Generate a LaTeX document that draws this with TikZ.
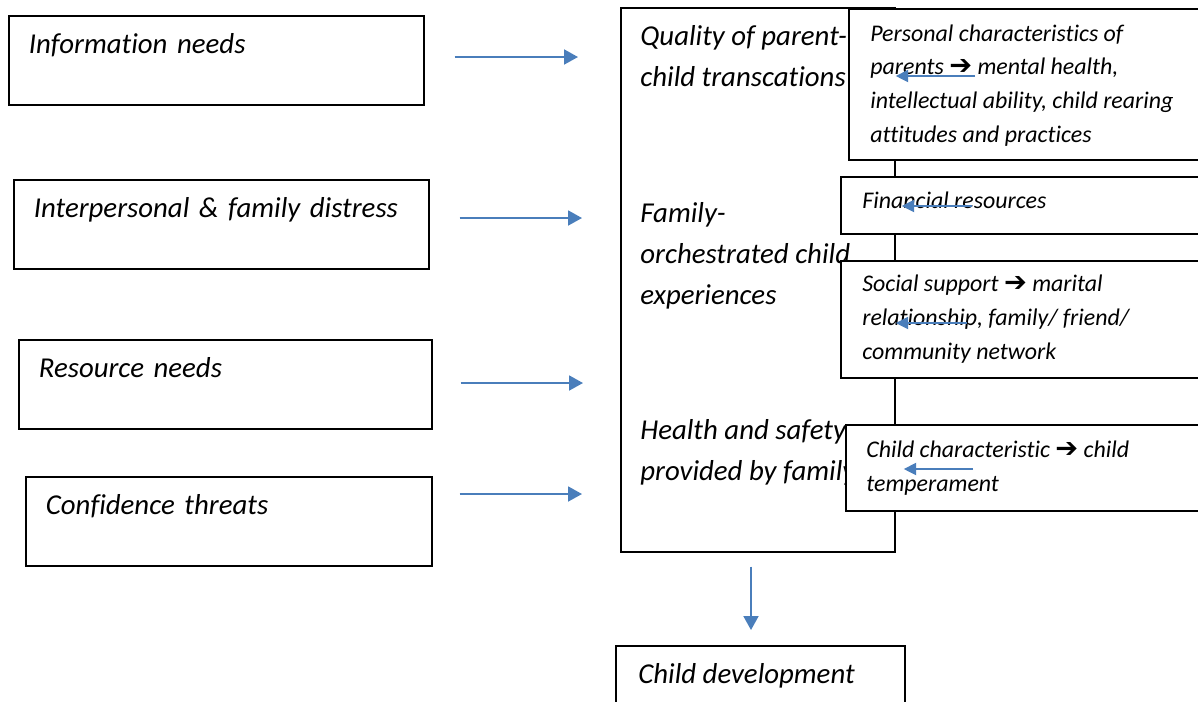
\documentclass[tikz,border=0pt]{standalone}
\usepackage{fontspec}
\setmainfont{Carlito}[Ligatures=NoCommon]
\newfontfamily\arrowfont{DejaVu Sans}
\usetikzlibrary{arrows.meta}
\definecolor{linkblue}{RGB}{74,126,187}
\newcommand{\bigtext}{\itshape\fontsize{16.4}{23.2}\selectfont}
\newcommand{\smalltext}{\itshape\fontsize{13.6}{19.1}\selectfont}
\newcommand{\leadsinto}{{\arrowfont\upshape\fontsize{15.5}{15}\selectfont ➔}}

\tikzset{
  factor/.style={draw, line width=1pt, anchor=north west, align=left, inner xsep=0.4cm, inner ysep=0pt,
    text width=#1, text height=0.76cm, text depth=1.02cm, font=\bigtext},
  holder/.style={draw, line width=1pt, anchor=north west},
  source/.style={draw, line width=1pt, fill=white, anchor=north west, minimum width=7.3cm},
  bigtxt/.style={anchor=base west, align=left, inner sep=0pt, font=\bigtext},
  smalltxt/.style={anchor=base west, align=left, inner sep=0pt, font=\smalltext},
  flow/.style={draw=linkblue, line width=1.1pt, -{Triangle[length=0.28cm, width=0.3cm]}},
  backflow/.style={draw=linkblue, line width=1.1pt, -{Triangle[length=0.25cm, width=0.24cm]}}
}

\begin{document}
\begin{tikzpicture}[x=0.02cm, y=-0.02cm]
	%%%%% START %%%%%
	\clip (0,0) rectangle (1198,701);
	
	% needs and threats on the left
	\node[factor=7.5cm] (info) at (8,15) {Information needs};
	\node[factor=7.5cm] (distress) at (13,179) {Interpersonal \& family distress};
	\node[factor=7.46cm] (resneeds) at (18,339) {Resource needs};
	\node[factor=7.32cm] (threats) at (25,476) {Confidence threats};
	
	% family patterns of interaction
	\node[holder, minimum width=5.48cm, minimum height=10.88cm] (main) at (620,7) {};
	\node[bigtxt] (quality) at (640,86) {Quality of parent-\\child transcations};
	\node[bigtxt] (orchestrated) at (640,304) {Family-\\orchestrated child\\experiences};
	\node[bigtxt] (health) at (640,480) {Health and safety\\provided by family};
	
	\draw[flow, shorten <=0.6cm, shorten >=0.84cm] (info.east |- 0,57) -- (main.west |- 0,57);
	\draw[flow, shorten <=0.6cm, shorten >=0.76cm] (distress.east |- 0,218) -- (main.west |- 0,218);
	\draw[flow, shorten <=0.56cm, shorten >=0.74cm] (resneeds.east |- 0,383) -- (main.west |- 0,383);
	\draw[flow, shorten <=0.54cm, shorten >=0.76cm] (threats.east |- 0,494) -- (main.west |- 0,494);
	
	% family characteristics on the right
	\node[source, minimum height=3.02cm] (persbox) at (848,8) {};
	\node[smalltxt] (pers) at (870,142) {Personal characteristics of\\parents \leadsinto\ mental health,\\intellectual ability, child rearing\\attitudes and practices};
	\node[source, minimum height=1.14cm] (finbox) at (840,176) {};
	\node[smalltxt] (fin) at (862,208) {Financial resources};
	\node[source, minimum height=2.34cm] (socbox) at (840,260) {};
	\node[smalltxt] (soc) at (862,359) {Social support \leadsinto\ marital\\relationship, family/ friend/\\community network};
	\node[source, minimum height=1.72cm] (childbox) at (845,424) {};
	\node[smalltxt] (temper) at (866,491) {Child characteristic \leadsinto\ child\\temperament};
	
	\coordinate (p1) at (975,76);
	\coordinate (p2) at (972,206);
	\coordinate (p3) at (967,323);
	\coordinate (p4) at (973,469);
	\draw[backflow] (p1) -- (p1 -| main.east);
	\draw[backflow, shorten >=0.12cm] (p2) -- (p2 -| main.east);
	\draw[backflow] (p3) -- (p3 -| main.east);
	\draw[backflow, shorten >=0.16cm] (p4) -- (p4 -| main.east);
	
	% outcome
	\node[holder, minimum width=5.78cm, minimum height=1.8cm] (devbox) at (615,645) {};
	\node[bigtxt] (dev) at (638,683) {Child development};
	\draw[flow, shorten <=0.28cm, shorten >=0.3cm] (main.south -| 751,0) -- (devbox.north -| 751,0);
	
	%%%%% END %%%%%
\end{tikzpicture}
\end{document}
